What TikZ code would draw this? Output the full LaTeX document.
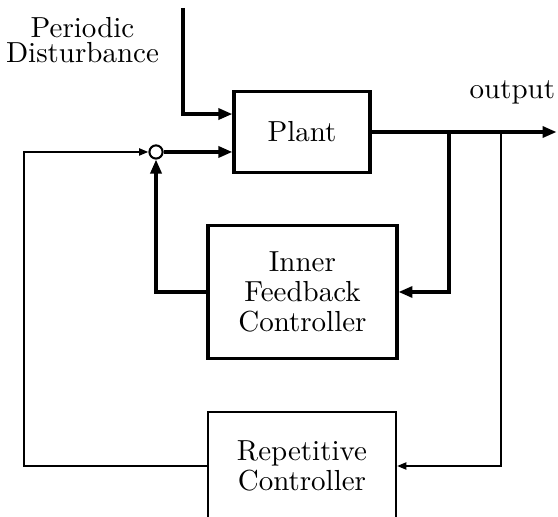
\documentclass[tikz,border=0pt]{standalone}
\usepackage{tikz}
\usetikzlibrary{arrows.meta}

\tikzset{
  blockthick/.style={draw, line width=1.1pt, align=center, font=\fontsize{10}{10.2}\selectfont},
  blockthin/.style={draw, line width=0.7pt, align=center, font=\fontsize{10}{10.2}\selectfont},
  sig/.style={line width=1.1pt},
  thinsig/.style={line width=0.7pt},
  bigtip/.style={-{Triangle[length=4.8pt,width=3.8pt]}},
  smalltip/.style={-{Triangle[length=3.2pt,width=2.4pt]}},
}

\begin{document}
\begin{tikzpicture}
\useasboundingbox (0,0) rectangle (6.763,6.266);

% Blocks
\node[blockthick, minimum width=1.65cm, minimum height=0.99cm] (plant) at (3.66,4.666) {Plant};
\node[blockthick, minimum width=2.29cm, minimum height=1.62cm] (inner) at (3.666,2.727) {Inner\\Feedback\\Controller};
\node[blockthin, minimum width=2.28cm, minimum height=1.31cm] (rep) at (3.66,0.618) {Repetitive\\Controller};
\node[draw, circle, line width=0.7pt, fill=white, inner sep=0pt, minimum size=0.16cm] (sum) at (1.891,4.424) {};

% Texts
\node[align=center, font=\fontsize{10}{8.6}\selectfont] (dtext) at (1.0,5.78) {Periodic\\Disturbance};
\node (otext) at (6.21,5.15) {output};

% Helper points
\coordinate (dtop) at (2.218,6.17);
\coordinate (din) at (2.218,4.884);
\coordinate (out) at (6.745,4.666);
\coordinate (b1) at (5.442,4.666);
\coordinate (b2) at (6.072,4.666);
\coordinate (lcorner) at (0.291,4.424);

% Disturbance and forward path
\draw[sig, bigtip] (dtop) -- (din) -- (din -| plant.west);
\draw[sig, bigtip] (sum.east) -- (sum -| plant.west);
\draw[sig, bigtip] (plant.east) -- (out);

% Inner loop
\draw[sig, bigtip] (b1) |- (inner.east);
\draw[sig, bigtip] (inner.west) -| (sum.south);

% Repetitive loop
\draw[thinsig, smalltip] (b2) |- (rep.east);
\draw[thinsig, smalltip] (rep.west) -| (lcorner) -- (sum.west);
\end{tikzpicture}
\end{document}
